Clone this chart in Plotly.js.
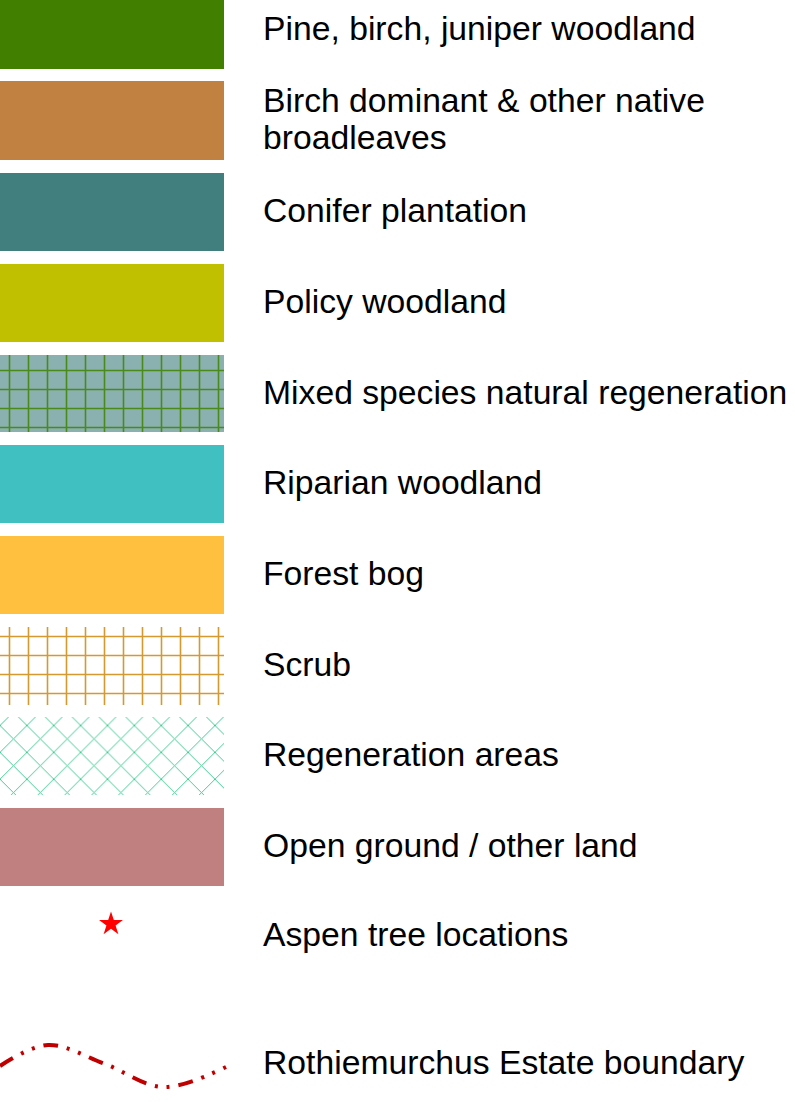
<!DOCTYPE html>
<html><head><meta charset="utf-8">
<script src="https://cdn.plot.ly/plotly-3.0.1.min.js"></script>
<style>html,body{margin:0;padding:0;background:#fff;}#chart{width:795px;height:1102px;}</style>
</head><body><div id="chart"></div>
<script>
// Legend categories (swatch rows)
const categories = ["Pine, birch, juniper woodland","Birch dominant & other native<br>broadleaves","Conifer plantation","Policy woodland","Mixed species natural regeneration","Riparian woodland","Forest bog","Scrub","Regeneration areas","Open ground / other land"];
const rowCenters = [30, 120.5, 212, 303, 393.5, 484, 575, 666, 756, 847];
const swatchColors = ["#417f00","#c18241","#417f7f","#c0c000","#8ab0b0","#40c0c0","#ffc040","#ffffff","#ffffff","#c08080"];
const patternShapes = ["","","","","+","","","+","x",""];
const patternColors = ["","","","","#4a8a1a","","","#d49a30","#3dcc90",""];
const swatchWidth = [224,224,224,224,224,224,224,224,224,224];
const rowHeights = [78,79,78,78,77,78,78,78,78,78];
// Point symbol row
const pointLabel = "Aspen tree locations";
const pointX = [111];
const pointY = [924];
const pointLabelY = 937;
// Boundary line row
const lineLabel = "Rothiemurchus Estate boundary";
const lineLabelY = 1065;
const lineX = [0, 48, 105, 163, 226];
const lineY = [1066, 1045, 1064, 1087, 1067];

const textX = 263;
const lineGap = 37;
const textShift = 2;

const traces = [];
categories.forEach((cat, i) => {
  const bar = {
    type:'bar', orientation:'h', y:[rowCenters[i]], x:[swatchWidth[i]], base:0,
    width:[rowHeights[i]],
    marker:{ color: swatchColors[i], line:{width:0} },
    hoverinfo:'skip', showlegend:false
  };
  if (patternShapes[i]) {
    bar.marker.pattern = { shape: patternShapes[i], fgcolor: patternColors[i], bgcolor: swatchColors[i],
      size: 19, solidity: patternShapes[i] === 'x' ? 0.1 : 0.16, fillmode:'overlay', fgopacity:1 };
  }
  traces.push(bar);
});

// labels (multi-line labels split into separate lines)
const tx = [], ty = [], tt = [];
categories.forEach((cat, i) => {
  const parts = cat.split('<br>');
  const n = parts.length;
  parts.forEach((p, k) => {
    tx.push(textX);
    ty.push(rowCenters[i] + textShift + (k - (n - 1) / 2) * lineGap);
    tt.push(p);
  });
});
tx.push(textX, textX); ty.push(pointLabelY + textShift - 1, lineLabelY + textShift - 1); tt.push(pointLabel, lineLabel);

traces.push({
  type:'scatter', mode:'text', x: tx, y: ty, text: tt,
  textposition:'middle right',
  textfont:{family:'Liberation Sans, Arial, sans-serif', size:33.7, color:'#000'},
  hoverinfo:'skip', showlegend:false, cliponaxis:false
});
traces.push({
  type:'scatter', mode:'markers', x: pointX, y: pointY,
  marker:{symbol:'star', size:18, color:'#ff0000', line:{width:0}},
  hoverinfo:'skip', showlegend:false
});
traces.push({
  type:'scatter', mode:'lines', x: lineX, y: lineY,
  line:{color:'#c00000', width:4, shape:'spline', dash:'15px,9px,3px,9px,3px,9px'},
  hoverinfo:'skip', showlegend:false
});

const layout = {
  width:795, height:1102,
  margin:{l:0,r:0,t:0,b:0},
  paper_bgcolor:'#fff', plot_bgcolor:'#fff',
  xaxis:{range:[0,795], visible:false, fixedrange:true},
  yaxis:{range:[1102,0], visible:false, fixedrange:true},
  barmode:'overlay', bargap:0,
  showlegend:false
};
Plotly.newPlot('chart', traces, layout, {staticPlot:true, displayModeBar:false});
</script></body></html>
